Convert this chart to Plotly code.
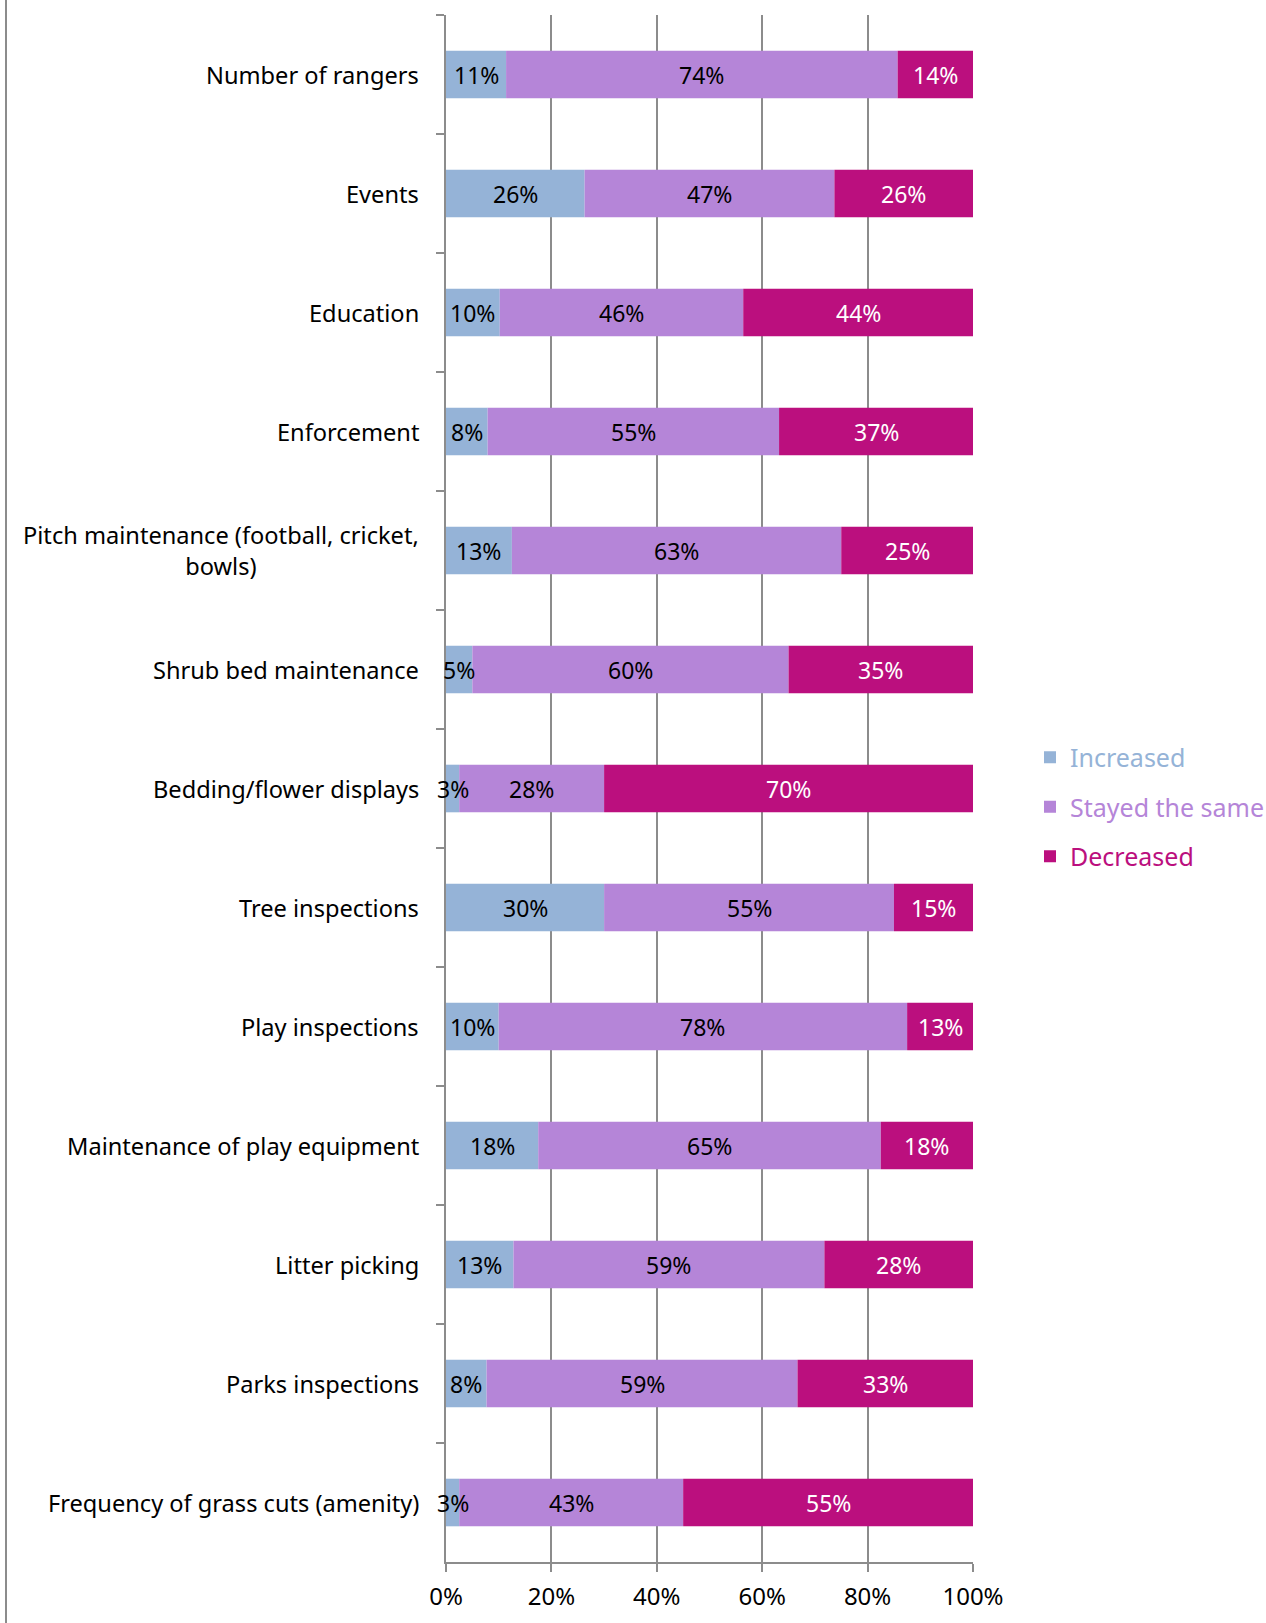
import plotly.graph_objects as go

# Service areas, listed top to bottom
categories = [
    "Number of rangers",
    "Events",
    "Education",
    "Enforcement",
    "Pitch maintenance (football, cricket,<br>bowls)",
    "Shrub bed maintenance",
    "Bedding/flower displays",
    "Tree inspections",
    "Play inspections",
    "Maintenance of play equipment",
    "Litter picking",
    "Parks inspections",
    "Frequency of grass cuts (amenity)",
]

# Share of respondents (%) for each response
increased = [11.4, 26.3, 10.2, 7.9, 12.5, 5.0, 2.5, 30.0, 10.0, 17.5, 12.8, 7.7, 2.5]
stayed_same = [74.3, 47.4, 46.2, 55.3, 62.5, 60.0, 27.5, 55.0, 77.5, 65.0, 59.0, 59.0, 42.5]
decreased = [14.3, 26.3, 43.6, 36.8, 25.0, 35.0, 70.0, 15.0, 12.5, 17.5, 28.2, 33.3, 55.0]

x_ticks = [0, 20, 40, 60, 80, 100]

series = [
    ("Increased", increased, "#95b3d7", "black"),
    ("Stayed the same", stayed_same, "#b585d8", "black"),
    ("Decreased", decreased, "#bb0f7e", "white"),
]

FONT = "Noto Sans"
GRID = "#8c8c8c"

W, H = 1266, 1623
L, R, T, B = 446, 293, 15, 61
plot_w = W - L - R


def pct_label(v):
    # whole-number percentage, halves rounded up
    return f"{int(v + 0.5)}%"


fig = go.Figure()
base = [0.0] * len(categories)
for i, (name, vals, color, txt_color) in enumerate(series):
    fig.add_trace(go.Bar(
        y=categories,
        x=vals,
        base=base,
        name=f"<span style='color:{color}'>{name}</span>",
        legendgroup=f"g{i}",
        orientation="h",
        marker=dict(color=color, line=dict(width=0)),
        hoverinfo="skip",
    ))
    # value labels centred in each segment
    for cat, b, v in zip(categories, base, vals):
        fig.add_annotation(
            x=b + v / 2, xref="x", y=cat, yref="y",
            text=pct_label(v), showarrow=False,
            xanchor="center", yanchor="middle",
            font=dict(family=FONT, size=23, color=txt_color),
        )
    base = [b + v for b, v in zip(base, vals)]

# Category labels, centred on multiple lines
for cat in categories:
    fig.add_annotation(
        x=-25 / plot_w, xref="paper", y=cat, yref="y",
        text=cat, showarrow=False, xanchor="right", yanchor="middle",
        align="center", font=dict(family=FONT, size=23.6, color="black"),
    )

# Outer frame line on the left edge
fig.add_shape(
    type="line", xref="paper", yref="paper",
    x0=(6 - L) / plot_w, x1=(6 - L) / plot_w, y0=-0.05, y1=1.02,
    line=dict(color=GRID, width=2),
)

fig.update_layout(
    barmode="overlay",
    bargap=0.6,
    width=W,
    height=H,
    margin=dict(l=L, r=R, t=T, b=B, autoexpand=False),
    paper_bgcolor="white",
    plot_bgcolor="white",
    font=dict(family=FONT, size=24, color="black"),
    showlegend=True,
    legend=dict(
        x=(1030 - L) / plot_w, xanchor="left",
        y=0.488, yanchor="middle",
        traceorder="grouped",
        font=dict(family=FONT, size=25),
        tracegroupgap=14,
        bgcolor="rgba(0,0,0,0)",
    ),
    xaxis=dict(
        range=[0, 100],
        tickvals=x_ticks,
        ticktext=[f"{v}%" for v in x_ticks],
        showgrid=True, gridcolor=GRID, gridwidth=2,
        showline=True, linecolor=GRID, linewidth=2,
        ticks="outside", ticklen=8, tickcolor=GRID, tickwidth=2,
        ticklabelstandoff=4,
        zeroline=False,
        tickfont=dict(family=FONT, size=24, color="black"),
        fixedrange=True,
    ),
    yaxis=dict(
        categoryorder="array",
        categoryarray=categories,
        range=[len(categories) - 0.5, -0.5],
        showticklabels=False,
        showline=True, linecolor=GRID, linewidth=2,
        ticks="outside", ticklen=8, tickcolor=GRID, tickwidth=2,
        tickson="boundaries",
        showgrid=False,
        fixedrange=True,
    ),
)

fig.write_html("out.html")
